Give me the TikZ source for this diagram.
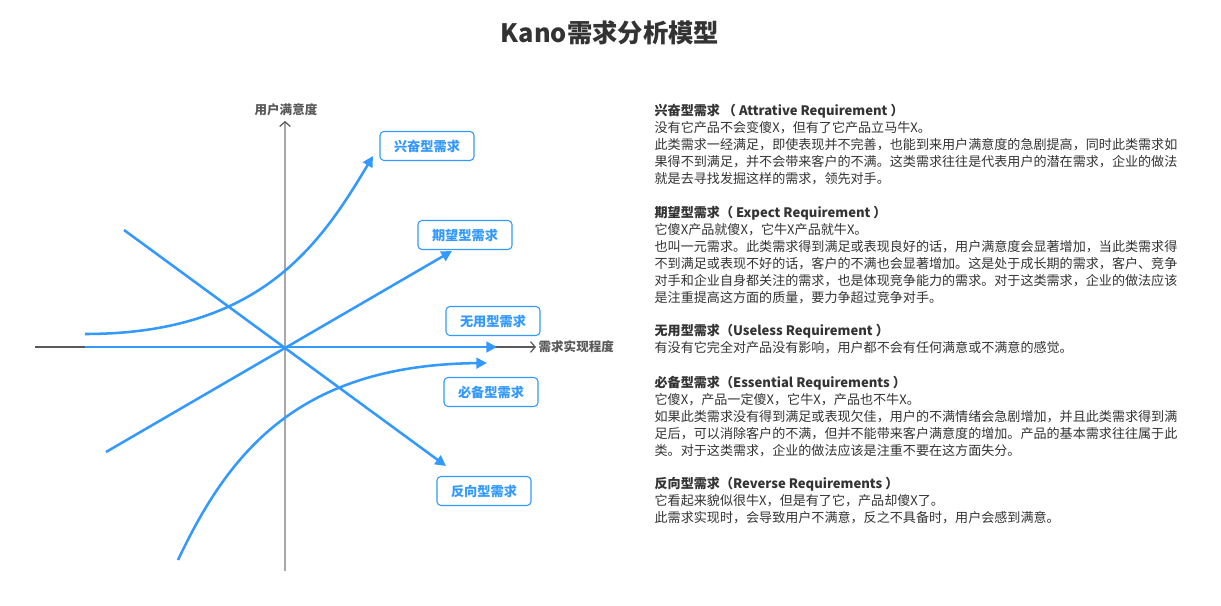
\documentclass[tikz,border=0pt]{standalone}
\usepackage{fontspec}
\setmainfont{Noto Sans CJK SC}
\usetikzlibrary{arrows.meta}
\definecolor{kblue}{HTML}{3399FF}
\definecolor{ktext}{HTML}{333333}
\definecolor{kaxis}{HTML}{A8A8A8}
\definecolor{kdark}{HTML}{595959}

\begin{document}
\begin{tikzpicture}[x = 0.75pt, y = -0.75pt, line width = 1pt,
                        curve/.style = {draw = kblue, line width = 1.9pt, -{Triangle[length = 8pt, width = 8pt]}},
                        axis/.style = {line width = 0.9pt, -{Straight Barb[length = 3.5pt, width = 8pt, color = kdark]}},
                        need/.style = {draw = kblue, rounded corners = 3pt, line width = 0.8pt, text = kblue,
                                       font = \fontsize{9.9}{12}\selectfont\bfseries,
                                       minimum width = 70.5pt, minimum height = 21.75pt},
                        lab/.style = {text = kdark, inner sep = 0pt, font = \fontsize{9.4}{11}\selectfont\bfseries},
                        desc/.style = {anchor = north west, align = left, inner sep = 0pt, text = ktext,
                                       font = \fontsize{9.8}{12.7}\selectfont}]
      \useasboundingbox (0, 0) rectangle (1221, 606);
      \node [text = ktext, font = \fontsize{19}{23}\selectfont\bfseries] (title) at (610, 33){Kano需求分析模型};
      % axes
      \coordinate (o) at (285, 347);
      \coordinate (xl) at (35, 347);
      \coordinate (xr) at (536, 347);
      \coordinate (yb) at (285, 571);
      \coordinate (yt) at (285, 121);
      \draw [axis, draw = kdark] (xl) -- (xr);
      \draw [axis, draw = kaxis] (yb) -- (yt);
      \node [lab] (ylab) at (286, 110){用户满意度};
      \node [lab, anchor = west] (xlab) at (538, 347){需求实现程度};
      % curves
      \coordinate (w0) at (85, 347);
      \coordinate (w1) at (497, 347);
      \coordinate (h0) at (85, 334);
      \coordinate (h1) at (373, 156);
      \coordinate (e0) at (106, 452);
      \coordinate (e1) at (452, 251);
      \coordinate (r0) at (124, 230);
      \coordinate (r1) at (446, 466);
      \coordinate (b0) at (178, 560);
      \coordinate (b1) at (487, 363);
      \draw [curve] (w0) -- (w1);
      \draw [curve] (h0) .. controls (260, 334) and (320, 245) .. (h1);
      \draw [curve] (e0) -- (e1);
      \draw [curve] (r0) -- (r1);
      \draw [curve] (b0) .. controls (230, 450) and (300, 365) .. (b1);
      % labels
      \node [need] (n1) at (427, 146){兴奋型需求};
      \node [need] (n2) at (465, 235){期望型需求};
      \node [need] (n3) at (493, 321){无用型需求};
      \node [need] (n4) at (491, 392){必备型需求};
      \node [need] (n5) at (484, 491){反向型需求};
      % text
      \node [desc] (d1) at (654, 104){\textbf{兴奋型需求 （ Attrative Requirement ）}\\
        没有它产品不会变傻X，但有了它产品立马牛X。\\
        此类需求一经满足，即使表现并不完善，也能到来用户满意度的急剧提高，同时此类需求如\\
        果得不到满足，并不会带来客户的不满。这类需求往往是代表用户的潜在需求，企业的做法\\
        就是去寻找发掘这样的需求，领先对手。};
      \node [desc] (d2) at (654, 206){\textbf{期望型需求（ Expect Requirement ）}\\
        它傻X产品就傻X，它牛X产品就牛X。\\
        也叫一元需求。此类需求得到满足或表现良好的话，用户满意度会显著增加，当此类需求得\\
        不到满足或表现不好的话，客户的不满也会显著增加。这是处于成长期的需求，客户、竞争\\
        对手和企业自身都关注的需求，也是体现竞争能力的需求。对于这类需求，企业的做法应该\\
        是注重提高这方面的质量，要力争超过竞争对手。};
      \node [desc] (d3) at (654, 324){\textbf{无用型需求（Useless Requirement ）}\\
        有没有它完全对产品没有影响，用户都不会有任何满意或不满意的感觉。};
      \node [desc] (d4) at (654, 376){\textbf{必备型需求（Essential Requirements ）}\\
        它傻X，产品一定傻X，它牛X，产品也不牛X。\\
        如果此类需求没有得到满足或表现欠佳，用户的不满情绪会急剧增加，并且此类需求得到满\\
        足后，可以消除客户的不满，但并不能带来客户满意度的增加。产品的基本需求往往属于此\\
        类。对于这类需求，企业的做法应该是注重不要在这方面失分。};
      \node [desc] (d5) at (654, 477){\textbf{反向型需求（Reverse Requirements ）}\\
        它看起来貌似很牛X，但是有了它，产品却傻X了。\\
        此需求实现时，会导致用户不满意，反之不具备时，用户会感到满意。};
    \end{tikzpicture}
\end{document}
